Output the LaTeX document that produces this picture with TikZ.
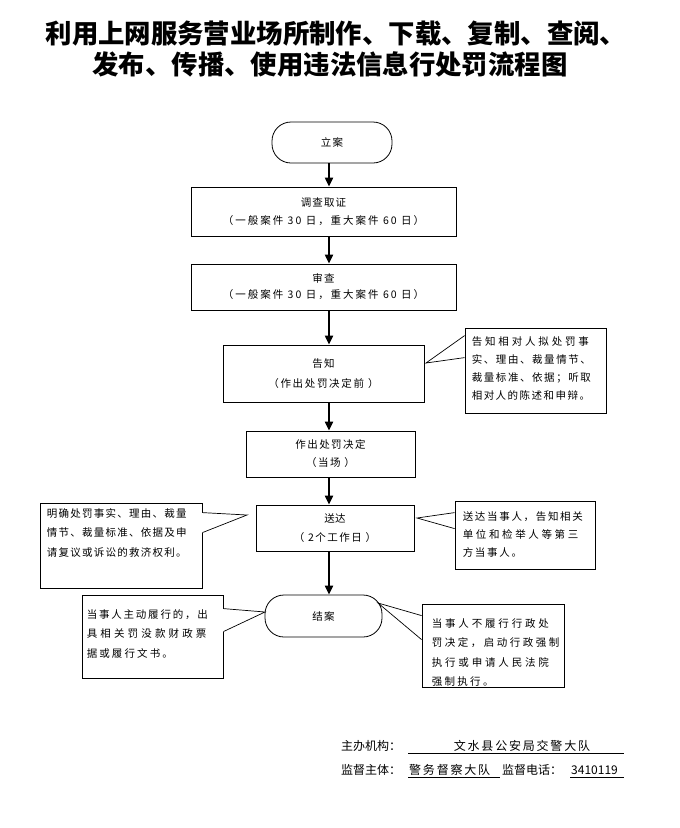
\documentclass[tikz,border=0pt]{standalone}
\usepackage{fontspec}
\usetikzlibrary{arrows.meta,calc}
\newfontfamily\cjk{Noto Sans CJK SC}
\newcommand\calfont[2]{\cjk\fontsize{10.5}{#2}\selectfont\addfontfeature{LetterSpace=#1}}
\newcommand\ls[1]{\addfontfeature{LetterSpace=#1}}
\begin{document}
\begin{tikzpicture}[x=1pt,y=-1pt,
  box/.style={draw, line width=0.8pt, inner sep=0pt, align=center},
  stadium/.style={box, rounded corners=19pt},
  callbox/.style={draw, line width=0.8pt, inner sep=0pt},
  calltext/.style={inner sep=0pt, align=left, anchor=north west},
  flow/.style={line width=2pt, -{Triangle[length=9pt,width=8pt]}},
  ptr/.style={line width=0.7pt},
  gap/.style={white, line width=1.4pt},
  foot/.style={inner sep=0pt, font=\cjk\fontsize{12}{14}\selectfont},
  footwide/.style={inner sep=0pt, font={\cjk\fontsize{12}{14}\selectfont\addfontfeature{LetterSpace=15}}},
  titlefont/.style={inner sep=0pt, font=\cjk\bfseries\fontsize{26.4}{30}\selectfont}
]
\fill[white] (0,0) rectangle (680,828);

% title
\node[titlefont] (t1) at (336,34) {利用上网服务营业场所制作、下载、复制、查阅、};
\node[titlefont] (t2) at (330,64) {发布、传播、使用违法信息行处罚流程图};

% main flow
\node[stadium, minimum width=120pt, minimum height=41pt, font=\calfont{10}{18}] (lian) at (332,142.5) {立案};
\node[box, minimum width=265pt, minimum height=49pt, font=\calfont{10}{18}] (diaocha) at (323.5,211.5) {调查取证\\\ls{19}（一般案件 30 日，重大案件 60 日）};
\node[box, minimum width=265pt, minimum height=46pt, font=\calfont{10}{16}] (shencha) at (323.5,287) {审查\\\ls{19}（一般案件 30 日，重大案件 60 日）};
\node[box, minimum width=201pt, minimum height=57pt, font=\calfont{12}{20}] (gaozhi) at (323.5,373.5) {告知\\\ls{16}（作出处罚决定前 ）};
\node[box, minimum width=169pt, minimum height=46pt, font=\calfont{14}{18}] (jueding) at (330.5,454) {作出处罚决定\\（当场 ）};
\node[box, minimum width=158pt, minimum height=46pt, font=\calfont{4}{19}] (songda) at (335,528) {送达\\\ls{14}（ 2个工作日 ）};
\node[stadium, minimum width=117pt, minimum height=42pt, font=\calfont{10}{18}] (jiean) at (323.5,616) {结案};

\coordinate (ax) at (329,0);
\draw[flow] (lian.south -| ax) -- (diaocha.north -| ax);
\draw[flow] (diaocha.south -| ax) -- (shencha.north -| ax);
\draw[flow] (shencha.south -| ax) -- (gaozhi.north -| ax);
\draw[flow] (gaozhi.south -| ax) -- (jueding.north -| ax);
\draw[flow] (jueding.south -| ax) -- (songda.north -| ax);
\draw[flow] (songda.south -| ax) -- (jiean.north -| ax);

% callout 1 (告知)
\node[callbox, minimum width=141pt, minimum height=85pt] (c1) at (535.5,370.5) {};
\node[calltext, font=\calfont{28}{18}] (c1t) at ($(c1.north west)+(7,9)$) {\ls{27}告知相对人拟处罚事\\\ls{15}实、理由、裁量情节、\\\ls{15}裁量标准、依据；听取\\\ls{14}相对人的陈述和申辩。};
\coordinate (p1a) at ($(c1.north west)+(0,8)$);
\coordinate (p1b) at ($(c1.north west)+(0,30)$);
\coordinate (p1t) at (426,363);
\draw[gap] (p1a) -- (p1b);
\draw[ptr] (p1a) -- (p1t) -- (p1b);

% callout 2 (left of 送达)
\node[callbox, minimum width=162pt, minimum height=85pt] (c2) at (121,545.5) {};
\node[calltext, font=\calfont{12}{19.5}] (c2t) at ($(c2.north west)+(7,5.5)$) {明确处罚事实、理由、裁量\\情节、裁量标准、依据及申\\请复议或诉讼的救济权利。};
\coordinate (p2a) at ($(c2.north east)+(0,10)$);
\coordinate (p2b) at ($(c2.north east)+(0,30)$);
\coordinate (p2t) at (247,515);
\draw[gap] (p2a) -- (p2b);
\draw[ptr] (p2a) -- (p2t) -- (p2b);

% callout 3 (right of 送达)
\node[callbox, minimum width=140pt, minimum height=68pt] (c3) at (525,535) {};
\node[calltext, font=\calfont{16}{18}] (c3t) at ($(c3.north west)+(8,10.5)$) {\ls{16}送达当事人，告知相关\\\ls{25}单位和检举人等第三\\\ls{16}方当事人。};
\coordinate (p3a) at ($(c3.north west)+(0,12)$);
\coordinate (p3b) at ($(c3.north west)+(0,28)$);
\coordinate (p3t) at (417,518);
\draw[gap] (p3a) -- (p3b);
\draw[ptr] (p3a) -- (p3t) -- (p3b);

% callout 4 (left of 结案)
\node[callbox, minimum width=141pt, minimum height=83pt] (c4) at (152.5,636.5) {};
\node[calltext, font=\calfont{17}{19.5}] (c4t) at ($(c4.north west)+(5,14.5)$) {\ls{17}当事人主动履行的，出\\\ls{30}具相关罚没款财政票\\\ls{20}据或履行文书。};
\coordinate (p4a) at ($(c4.north east)+(0,14)$);
\coordinate (p4b) at ($(c4.north east)+(0,37)$);
\coordinate (p4t) at (265,612);
\draw[gap] (p4a) -- (p4b);
\draw[ptr] (p4a) -- (p4t) -- (p4b);

% callout 5 (right of 结案)
\node[callbox, minimum width=142pt, minimum height=83pt] (c5) at (493,645.5) {};
\node[calltext, font=\calfont{27}{19.5}] (c5t) at ($(c5.north west)+(10,14.5)$) {\ls{27}当事人不履行行政处\\\ls{24}罚决定，启动行政强制\\\ls{27}执行或申请人民法院\\\ls{22}强制执行。};
\coordinate (p5a) at ($(c5.north west)+(0,12)$);
\coordinate (p5b) at ($(c5.north west)+(0,36)$);
\coordinate (p5t) at (378,603);
\draw[gap] (p5a) -- (p5b);
\draw[ptr] (p5a) -- (p5t) -- (p5b);

% footer
\node[foot, anchor=west] (f1) at (341,746) {主办机构：};
\node[footwide] (f2) at (522,746) {文水县公安局交警大队};
\coordinate (u1a) at (408,753); \coordinate (u1b) at (624,753);
\draw[line width=0.8pt] (u1a) -- (u1b);
\node[foot, anchor=west] (f3) at (341,770) {监督主体：};
\node[footwide, anchor=west] (f4) at (409,770) {警务督察大队};
\coordinate (u2a) at (408,777); \coordinate (u2b) at (500,777);
\draw[line width=0.8pt] (u2a) -- (u2b);
\node[foot, anchor=west] (f5) at (502,770) {监督电话：};
\node[foot, anchor=west] (f6) at (571,770) {3410119};
\coordinate (u3a) at (570,777); \coordinate (u3b) at (624,777);
\draw[line width=0.8pt] (u3a) -- (u3b);
\end{tikzpicture}
\end{document}
